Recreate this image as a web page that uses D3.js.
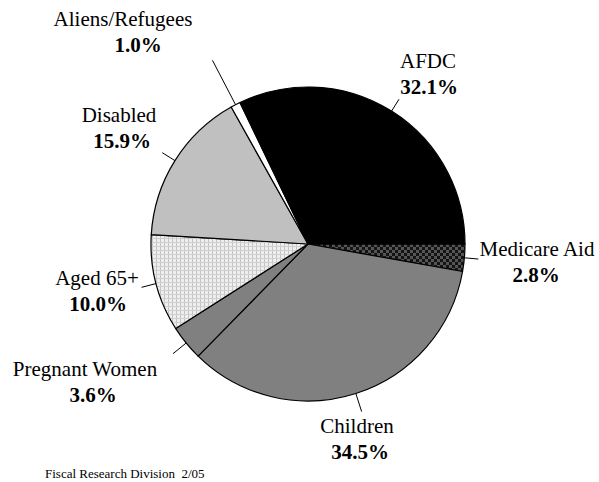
<!DOCTYPE html>
<html>
<head>
<meta charset="utf-8">
<script src="https://cdn.jsdelivr.net/npm/d3@7/dist/d3.min.js"></script>
<style>
  body { margin: 0; background: #fff; }
  svg text { font-family: "Times New Roman", Times, "Liberation Serif", serif; fill: #000; }
  .name { font-size: 21px; }
  .pct { font-size: 21px; font-weight: bold; }
  .source { font-size: 13px; white-space: pre; }
</style>
</head>
<body>
<div id="pie-chart"></div>
<script>
// Data (clockwise, starting at 3 o'clock)
var categories = ["Medicare Aid", "Children", "Pregnant Women", "Aged 65+", "Disabled", "Aliens/Refugees", "AFDC"];
var shares = [2.8, 34.5, 3.6, 10.0, 15.9, 1.0, 32.1];
var sourceNote = "Fiscal Research Division  2/05";

// Fills per slice
var fills = {
  "Medicare Aid": "url(#checker)",
  "Children": "#808080",
  "Pregnant Women": "#808080",
  "Aged 65+": "url(#dots)",
  "Disabled": "#c0c0c0",
  "Aliens/Refugees": "#ffffff",
  "AFDC": "#000000"
};

// Label placement: center x of each line, first baseline, leader length
var labelLayout = {
  "Medicare Aid": { x1: 537, y: 256, x2: 536, leader: 14 },
  "Children": { x1: 357, y: 433, x2: 360, leader: 19 },
  "Pregnant Women": { x1: 85, y: 376, x2: 93, leader: 17 },
  "Aged 65+": { x1: 97, y: 285, x2: 98, leader: 15 },
  "Disabled": { x1: 119, y: 122, x2: 122, leader: 15 },
  "Aliens/Refugees": { x1: 123, y: 26, x2: 138, leader: 50 },
  "AFDC": { x1: 428, y: 68, x2: 429, leader: 14 }
};

var width = 599, height = 482;
var cx = 308, cy = 244, radius = 157;
var lineGap = 26;

var data = categories.map((c, i) => ({ name: c, value: shares[i] }));

var svg = d3.select("#pie-chart")
  .append("svg")
  .attr("width", width)
  .attr("height", height);

// Patterns
var defs = svg.append("defs");

var checker = defs.append("pattern")
  .attr("id", "checker")
  .attr("patternUnits", "userSpaceOnUse")
  .attr("width", 6)
  .attr("height", 6);
checker.append("rect").attr("width", 6).attr("height", 6).attr("fill", "#141414");
checker.append("rect").attr("x", 0).attr("y", 0).attr("width", 3).attr("height", 3).attr("fill", "#555");
checker.append("rect").attr("x", 3).attr("y", 3).attr("width", 3).attr("height", 3).attr("fill", "#555");

var dots = defs.append("pattern")
  .attr("id", "dots")
  .attr("patternUnits", "userSpaceOnUse")
  .attr("width", 4)
  .attr("height", 4);
dots.append("rect").attr("width", 4).attr("height", 4).attr("fill", "#eeeeee");
dots.append("rect").attr("x", 0).attr("y", 0).attr("width", 1).attr("height", 4).attr("fill", "#c4c4c4");
dots.append("rect").attr("x", 0).attr("y", 2).attr("width", 4).attr("height", 1).attr("fill", "#d0d0d0");

var pie = d3.pie()
  .sort(null)
  .value(d => d.value)
  .startAngle(Math.PI / 2)
  .endAngle(Math.PI / 2 + 2 * Math.PI);

var arcs = pie(data);

var arc = d3.arc()
  .innerRadius(0)
  .outerRadius(radius);

var chart = svg.append("g")
  .attr("transform", `translate(${cx},${cy})`);

chart.append("g")
  .attr("class", "slices")
  .selectAll("path")
  .data(arcs)
  .enter()
  .append("path")
  .attr("d", arc)
  .attr("fill", d => fills[d.data.name])
  .attr("stroke", "#000")
  .attr("stroke-width", 1.2)
  .attr("stroke-linejoin", "round");

// Leader lines
var midAngle = d => (d.startAngle + d.endAngle) / 2;
var pointAt = (a, r) => [Math.sin(a) * r, -Math.cos(a) * r];

chart.append("g")
  .attr("class", "leaders")
  .selectAll("line")
  .data(arcs)
  .enter()
  .append("line")
  .attr("x1", d => pointAt(midAngle(d), radius)[0])
  .attr("y1", d => pointAt(midAngle(d), radius)[1])
  .attr("x2", d => pointAt(midAngle(d), radius + labelLayout[d.data.name].leader)[0])
  .attr("y2", d => pointAt(midAngle(d), radius + labelLayout[d.data.name].leader)[1])
  .attr("stroke", "#000")
  .attr("stroke-width", 1);

// Labels
var labels = svg.append("g").attr("class", "labels");

labels.selectAll("text.name")
  .data(data)
  .enter()
  .append("text")
  .attr("class", "name")
  .attr("text-anchor", "middle")
  .attr("x", d => labelLayout[d.name].x1)
  .attr("y", d => labelLayout[d.name].y)
  .text(d => d.name);

labels.selectAll("text.pct")
  .data(data)
  .enter()
  .append("text")
  .attr("class", "pct")
  .attr("text-anchor", "middle")
  .attr("x", d => labelLayout[d.name].x2)
  .attr("y", d => labelLayout[d.name].y + lineGap)
  .text(d => d.value.toFixed(1) + "%");

svg.append("text")
  .attr("class", "source")
  .attr("x", 45)
  .attr("y", 478)
  .text(sourceNote);
</script>
</body>
</html>
